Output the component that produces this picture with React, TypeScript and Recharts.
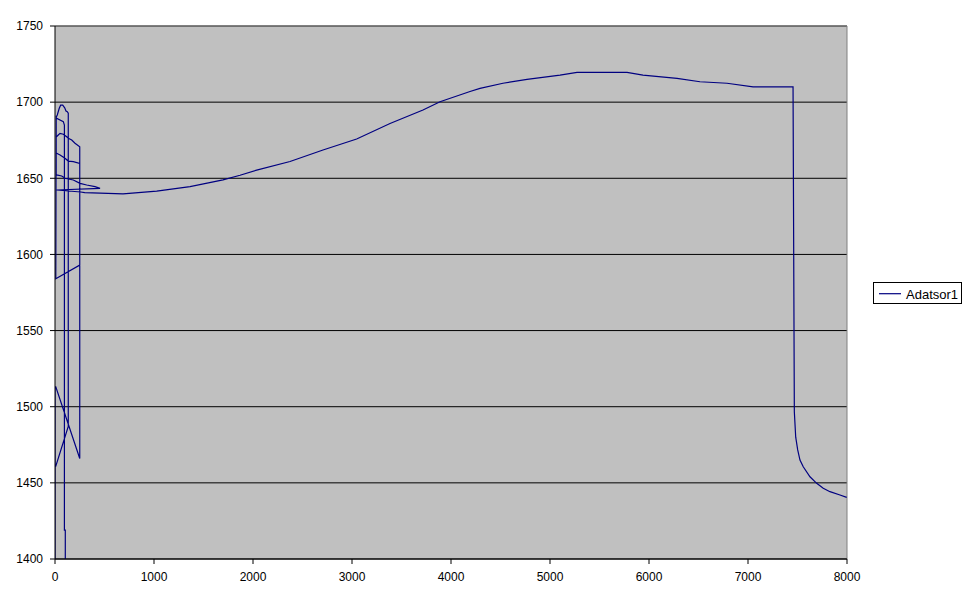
import React from 'react';
import { LineChart, Line, XAxis, YAxis, CartesianGrid, ReferenceLine, Legend } from 'recharts';

// Early, overlapping runs near the start of the x range (points in recorded order)
const startX = [0, 8, 134, 134, 124, 111, 98, 78, 57, 43, 23, 12, 17, 84, 95, 95, 104, 104, 0, 0, 8, 250, 250, 202, 169, 134, 118, 84, 51, 33, 12, 12, 17, 51, 101, 134, 185, 250, 250, 8, 12, 12, 17, 68, 101, 185, 253, 320, 404, 455, 17, 260];
const startY = [1461, 1461, 1487, 1692.7, 1693.7, 1694.2, 1696.3, 1698, 1698, 1696, 1691.6, 1690, 1689.4, 1687.2, 1685, 1419, 1419, 1300, 1300, 1513, 1513, 1466, 1670.7, 1673, 1675.1, 1676.3, 1677.3, 1678.9, 1679.5, 1678.4, 1677, 1666.5, 1666.4, 1665.3, 1663.1, 1661.3, 1660.9, 1659.8, 1593, 1584, 1691, 1652.5, 1652.2, 1651.5, 1650, 1648.9, 1646.7, 1645.6, 1644.5, 1643.4, 1642.3, 1641];

// Main run
const mainX = [300, 455, 687, 1027, 1364, 1697, 1869, 2037, 2374, 2707, 3047, 3384, 3717, 3889, 4192, 4293, 4525, 4768, 5101, 5273, 5778, 5939, 6283, 6515, 6788, 7051, 7455];
const mainY = [1640.6, 1640.2, 1639.7, 1641.6, 1644.5, 1649, 1652, 1655.4, 1661, 1668.6, 1675.8, 1686, 1694.8, 1700.3, 1707, 1709, 1712.4, 1715, 1717.8, 1719.6, 1719.6, 1717.8, 1715.6, 1713.4, 1712.4, 1710, 1710];

// Final drop and decay
const dropX = [7468, 7482, 7502, 7525, 7558, 7626, 7694, 7760, 7828, 7929, 7997];
const dropY = [1496.7, 1480, 1471.6, 1465, 1460.6, 1454, 1449.7, 1446.4, 1444.2, 1442, 1440.5];

const xTicks = [0, 1000, 2000, 3000, 4000, 5000, 6000, 7000, 8000];
const yTicks = [1400, 1450, 1500, 1550, 1600, 1650, 1700, 1750];

const seriesName = 'Adatsor1';

const allX = [...startX, ...mainX, ...dropX];
const allY = [...startY, ...mainY, ...dropY];
const data = allX.map((x, i) => ({ x, y: allY[i] }));

const FONT = '"Liberation Sans", Arial, sans-serif';

const LegendBox = () => (
  <div
    style={{
      width: 89,
      height: 22,
      border: '1px solid #000',
      boxSizing: 'border-box',
      background: '#fff',
      position: 'relative',
    }}
  >
    <svg width={87} height={20} style={{ position: 'absolute', left: 0, top: 0 }}>
      <line x1={5} x2={27} y1={10.7} y2={10.7} stroke="#000080" strokeWidth={1.2} />
      <text x={32} y={15.5} fontFamily={FONT} fontSize={13} fill="#000">
        {seriesName}
      </text>
    </svg>
  </div>
);

export default function App() {
  return (
    <div style={{ width: 963, height: 597, background: '#fff' }}>
      <LineChart
        width={963}
        height={597}
        data={data}
        margin={{ top: 18, right: 124, bottom: 16, left: 0 }}
      >
        <CartesianGrid vertical={false} stroke="#000" fill="#C0C0C0" fillOpacity={1} />
        <XAxis
          type="number"
          dataKey="x"
          domain={[0, 8000]}
          ticks={xTicks}
          allowDataOverflow
          height={30}
          tickSize={5}
          tickMargin={8}
          stroke="#000"
          tick={{ fill: '#000', fontSize: 12, fontFamily: FONT }}
          interval={0}
        />
        <YAxis
          type="number"
          domain={[1400, 1750]}
          ticks={yTicks}
          allowDataOverflow
          width={47}
          tickSize={5}
          tickMargin={7}
          stroke="#000"
          tick={{ fill: '#000', fontSize: 12, fontFamily: FONT }}
          interval={0}
        />
        <ReferenceLine y={1750} stroke="#808080" />
        <ReferenceLine x={8000} stroke="#808080" />
        <Line
          type="linear"
          dataKey="y"
          name={seriesName}
          stroke="#000080"
          strokeWidth={1.2}
          dot={false}
          isAnimationActive={false}
        />
        <Legend
          layout="vertical"
          align="center"
          verticalAlign="middle"
          content={() => <LegendBox />}
          wrapperStyle={{ left: 865, top: 274, width: 89, height: 22 }}
        />
      </LineChart>
    </div>
  );
}
